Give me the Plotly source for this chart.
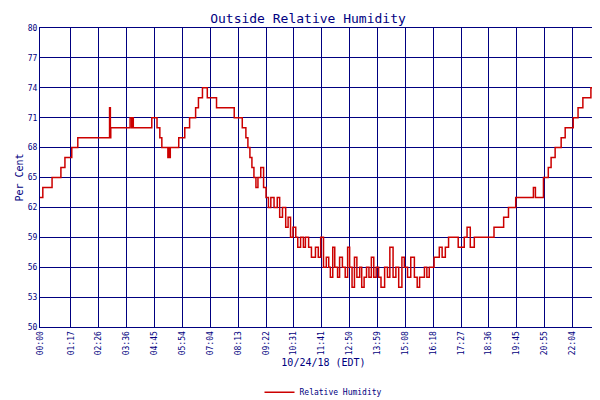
import plotly.graph_objects as go

# minutes since midnight, humidity (%) - step series
minutes = [0, 7, 30, 52, 62, 79, 94, 173, 175, 176, 224, 228, 230, 232, 234, 278, 291, 298, 303,
           318, 320, 322, 324, 345, 360, 372, 387, 394, 404, 416, 439, 483, 503, 512, 517, 522,
           527, 532, 537, 542, 549, 556, 562, 568, 574, 582, 590, 596, 603, 611, 617, 623, 629,
           636, 641, 648, 655, 660, 668, 675, 685, 692, 698, 705, 712, 718, 722, 728, 733, 740,
           745, 752, 759, 765, 770, 776, 782, 788, 795, 800, 806, 812, 818, 824, 830, 836, 842,
           848, 857, 864, 870, 878, 885, 892, 900, 906, 914, 922, 931, 938, 944, 956, 962, 968,
           980, 993, 1000, 1008, 1016, 1030, 1040, 1055, 1062, 1070, 1080, 1129, 1153, 1165,
           1183, 1227, 1232, 1252, 1264, 1271, 1281, 1296, 1306, 1326, 1338, 1350, 1370, 1376,
           1380, 1410]
humidity = [63, 64, 65, 66, 67, 68, 69, 72, 69, 70, 71, 70, 71, 70, 70, 71, 70, 69, 68,
            67, 68, 67, 68, 69, 70, 71, 72, 73, 74, 73, 72, 71, 70, 69, 68, 67,
            66, 65, 64, 65, 66, 64, 63, 62, 63, 62, 63, 61, 62, 60, 61, 59, 60,
            59, 58, 59, 58, 59, 58, 57, 58, 57, 59, 56, 57, 56, 55, 58, 56, 55,
            57, 56, 55, 58, 56, 54, 57, 55, 56, 54, 55, 56, 55, 57, 55, 56, 55,
            54, 56, 55, 58, 55, 56, 54, 57, 56, 55, 57, 55, 54, 55, 56, 55, 56,
            57, 58, 57, 58, 59, 59, 58, 59, 60, 58, 59, 60, 61, 62,
            63, 64, 63, 65, 66, 67, 68, 69, 70, 71, 72, 73, 74, 73,
            74, 74]

tick_vals = [0, 77, 146, 216, 285, 354, 424, 493, 562, 631, 701, 770, 839, 908, 978,
             1047, 1116, 1185, 1255, 1324, 1393, 1408]
tick_text = ["00:00", "01:17", "02:26", "03:36", "04:45", "05:54", "07:04", "08:13", "09:22",
             "10:31", "11:41", "12:50", "13:59", "15:08", "16:18", "17:27", "18:36", "19:45",
             "20:55", "22:04", "23:13", "23:28"]
y_ticks = list(range(50, 81, 3))

NAVY = "#000080"
FONT = "DejaVu Sans Mono"

fig = go.Figure()
fig.add_trace(go.Scatter(x=minutes, y=humidity, mode="lines", line=dict(color="#cc0000", width=1.5, shape="hv"),
                         name="Relative Humidity"))

fig.update_layout(
    width=600, height=400,
    margin=dict(l=32, r=1, t=20, b=63),
    paper_bgcolor="white", plot_bgcolor="white",
    title=dict(text="Outside Relative Humidity", x=0.5, y=0.985, yanchor="top",
               font=dict(family=FONT, size=13, color=NAVY)),
    font=dict(family=FONT, size=8, color=NAVY),
    showlegend=True,
    legend=dict(orientation="h", x=0.5, xanchor="center", y=-0.17, yanchor="top",
                font=dict(family=FONT, size=8, color=NAVY)),
)
fig.update_xaxes(range=[0, 1410], tickvals=tick_vals, ticktext=tick_text, tickangle=-90,
                 automargin=False, showgrid=True, gridcolor=NAVY, gridwidth=1, showline=True,
                 linecolor=NAVY, mirror=True, zeroline=False, ticks="",
                 title=dict(text="10/24/18 (EDT)", standoff=4, font=dict(family=FONT, size=10, color=NAVY)))
fig.update_yaxes(range=[50, 80], tickvals=y_ticks, automargin=False, showgrid=True, gridcolor=NAVY,
                 gridwidth=1, showline=True, linecolor=NAVY, mirror=True, zeroline=False, ticks="",
                 title=dict(text="Per Cent", standoff=2, font=dict(family=FONT, size=10, color=NAVY)))

fig.write_html("out.html")
